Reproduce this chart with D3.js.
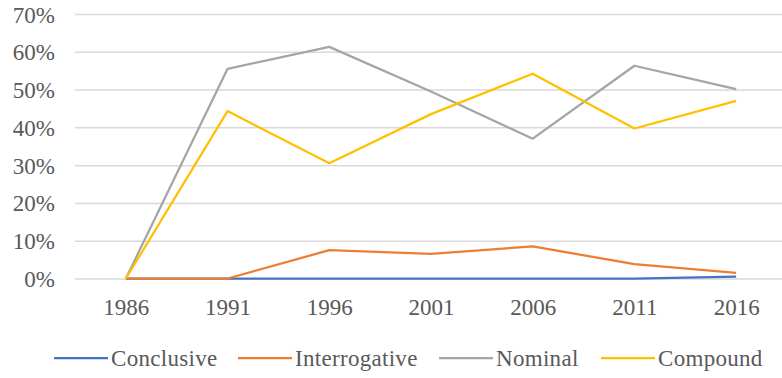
<!DOCTYPE html>
<html>
<head>
<meta charset="utf-8">
<script src="https://cdn.jsdelivr.net/npm/d3@7/dist/d3.min.js"></script>
<style>
  html, body { margin: 0; padding: 0; background: #fff; }
  svg text { font-family: "Liberation Serif", "DejaVu Serif", serif; fill: #595959; }
</style>
</head>
<body>
<svg id="chart" width="782" height="378"></svg>
<script>
// Share of each question type by year (fractions)
const years = ["1986", "1991", "1996", "2001", "2006", "2011", "2016"];
const conclusive    = [0, 0, 0, 0, 0, 0, 0.005];
const interrogative = [0, 0, 0.075, 0.065, 0.085, 0.038, 0.015];
const nominal       = [0, 0.555, 0.613, 0.495, 0.37, 0.563, 0.501];
const compound      = [0, 0.443, 0.305, 0.435, 0.542, 0.397, 0.47];
const yTicks = [0, 0.1, 0.2, 0.3, 0.4, 0.5, 0.6, 0.7];

const seriesNames  = ["Conclusive", "Interrogative", "Nominal", "Compound"];
const seriesValues = [conclusive, interrogative, nominal, compound];
const seriesColors = ["#4472C4", "#ED7D31", "#A5A5A5", "#FFC000"];

const svg = d3.select("#chart");
const plot = { left: 75, right: 787, top: 14, bottom: 278.5 };
const fontSize = 23;
const fontFamily = "'Liberation Serif', 'DejaVu Serif', serif";

const x = d3.scalePoint().domain(years).range([plot.left, plot.right]).padding(0.5);
const y = d3.scaleLinear().domain([0, 0.7]).range([plot.bottom, plot.top]);

// Horizontal gridlines and percentage labels
const yAxis = d3.axisLeft(y).tickValues(yTicks)
  .tickFormat(d3.format(".0%"))
  .tickSize(-(plot.right - plot.left)).tickPadding(20);
const gy = svg.append("g").attr("transform", `translate(${plot.left},0)`).call(yAxis)
  .attr("font-family", fontFamily);
gy.select(".domain").remove();
gy.selectAll(".tick line").attr("stroke", "#D9D9D9").attr("stroke-width", 1.5);
gy.selectAll(".tick text").attr("font-size", fontSize).attr("font-family", fontFamily).attr("dy", "0.35em");

// Year labels along the bottom
const xAxis = d3.axisBottom(x).tickSize(0).tickPadding(20);
const gx = svg.append("g").attr("transform", `translate(0,${plot.bottom})`).call(xAxis)
  .attr("font-family", fontFamily);
gx.select(".domain").remove();
gx.selectAll(".tick text").attr("font-size", fontSize).attr("font-family", fontFamily);

// Series lines
const line = d3.line().x((d, i) => x(years[i])).y(d => y(d));
seriesValues.forEach((vals, k) => {
  svg.append("path")
    .datum(vals)
    .attr("fill", "none")
    .attr("stroke", seriesColors[k])
    .attr("stroke-width", 2.25)
    .attr("stroke-linejoin", "round")
    .attr("d", line);
});

// Legend
const legendX = [54, 238, 439, 601];
const legend = svg.append("g").attr("transform", "translate(0,358)");
seriesNames.forEach((name, k) => {
  const g = legend.append("g").attr("transform", `translate(${legendX[k]},0)`);
  g.append("line").attr("x1", 0).attr("x2", 54).attr("y1", 0).attr("y2", 0)
    .attr("stroke", seriesColors[k]).attr("stroke-width", 2.25);
  g.append("text").attr("x", 57).attr("y", 0).attr("dy", "0.35em")
    .attr("font-size", fontSize).attr("font-family", fontFamily)
    .attr("letter-spacing", 0.3).text(name);
});
</script>
</body>
</html>
